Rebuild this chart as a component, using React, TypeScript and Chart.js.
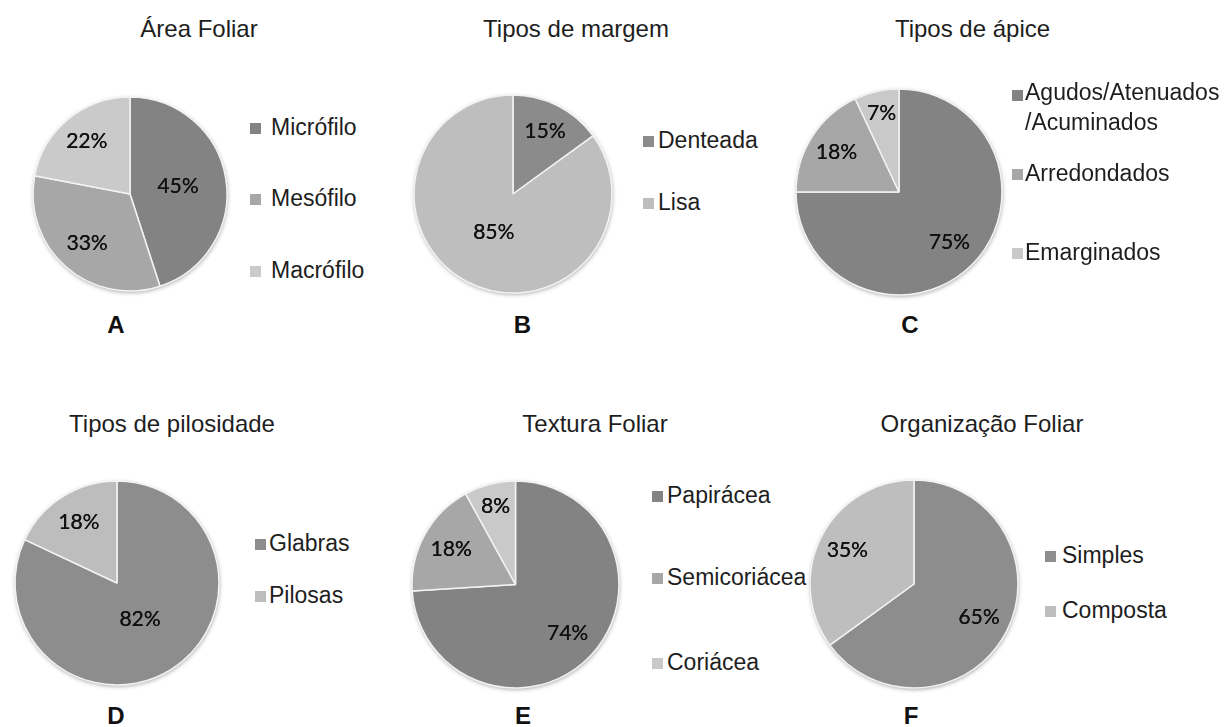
import React, { useEffect, useRef } from 'react';
import { Chart, registerables } from 'chart.js';

Chart.register(...registerables);

// ---------- DATA ----------
const areaTitle = 'Área Foliar';
const areaLabels = ['Micrófilo', 'Mesófilo', 'Macrófilo'];
const areaValues = [45, 33, 22];

const margemTitle = 'Tipos de margem';
const margemLabels = ['Denteada', 'Lisa'];
const margemValues = [15, 85];

const apiceTitle = 'Tipos de ápice';
const apiceLabels: (string | string[])[] = [['Agudos/Atenuados', '/Acuminados'], 'Arredondados', 'Emarginados'];
const apiceValues = [75, 18, 7];

const pilosidadeTitle = 'Tipos de pilosidade';
const pilosidadeLabels = ['Glabras', 'Pilosas'];
const pilosidadeValues = [82, 18];

const texturaTitle = 'Textura Foliar';
const texturaLabels = ['Papirácea', 'Semicoriácea', 'Coriácea'];
const texturaValues = [74, 18, 8];

const organizacaoTitle = 'Organização Foliar';
const organizacaoLabels = ['Simples', 'Composta'];
const organizacaoValues = [65, 35];

const panelLetters = ['A', 'B', 'C', 'D', 'E', 'F'];

// ---------- STYLE / LAYOUT ----------
const TEXT_FONT = '"Liberation Sans", Arial, sans-serif';
const LABEL_FONT = '21px Lato, "Open Sans", sans-serif';

type Panel = {
  title: string;
  labels: (string | string[])[];
  values: number[];
  colors: string[];
  letter: string;
  cx: number; cy: number; r: number;
  labelFactors: number[];
  titleX: number; titleY: number;
  letterX: number; letterY: number;
  sqX: number; textGap: number; legendYs: number[];
};

const panels: Panel[] = [
  {
    title: areaTitle, labels: areaLabels, values: areaValues,
    colors: ['#838383', '#a7a7a7', '#cacaca'], letter: panelLetters[0],
    cx: 130, cy: 194, r: 97, labelFactors: [0.5, 0.67, 0.7],
    titleX: 199, titleY: 28.5, letterX: 116, letterY: 325,
    sqX: 250, textGap: 10, legendYs: [127, 198, 270],
  },
  {
    title: margemTitle, labels: margemLabels, values: margemValues,
    colors: ['#8b8b8b', '#bebebe'], letter: panelLetters[1],
    cx: 512.5, cy: 194, r: 99, labelFactors: [0.71, 0.43],
    titleX: 576, titleY: 28.5, letterX: 522.5, letterY: 325,
    sqX: 643, textGap: 4, legendYs: [140, 202],
  },
  {
    title: apiceTitle, labels: apiceLabels, values: apiceValues,
    colors: ['#838383', '#a7a7a7', '#c9c9c9'], letter: panelLetters[2],
    cx: 898.5, cy: 192, r: 103, labelFactors: [0.69, 0.72, 0.78],
    titleX: 972.5, titleY: 28.5, letterX: 910, letterY: 325,
    sqX: 1012, textGap: 2, legendYs: [92, 173, 252],
  },
  {
    title: pilosidadeTitle, labels: pilosidadeLabels, values: pilosidadeValues,
    colors: ['#8d8d8d', '#bdbdbd'], letter: panelLetters[3],
    cx: 117, cy: 583, r: 102, labelFactors: [0.42, 0.7],
    titleX: 172, titleY: 423.5, letterX: 116, letterY: 716,
    sqX: 255, textGap: 3, legendYs: [543, 595],
  },
  {
    title: texturaTitle, labels: texturaLabels, values: texturaValues,
    colors: ['#838383', '#a7a7a7', '#c9c9c9'], letter: panelLetters[4],
    cx: 515, cy: 584, r: 103.5, labelFactors: [0.69, 0.71, 0.78],
    titleX: 595, titleY: 423.5, letterX: 523, letterY: 716,
    sqX: 652, textGap: 4, legendYs: [495, 577, 662],
  },
  {
    title: organizacaoTitle, labels: organizacaoLabels, values: organizacaoValues,
    colors: ['#8d8d8d', '#bebebe'], letter: panelLetters[5],
    cx: 914, cy: 584, r: 104, labelFactors: [0.7, 0.72],
    titleX: 982, titleY: 423.5, letterX: 911, letterY: 716,
    sqX: 1045, textGap: 6, legendYs: [555, 610],
  },
];

const shadowPlugin = {
  id: 'pieShadow',
  beforeDatasetsDraw(chart: any) {
    const meta = chart.getDatasetMeta(0);
    const arc = meta.data[0];
    if (!arc) return;
    const { x, y, outerRadius } = arc.getProps(['x', 'y', 'outerRadius'], true);
    const ctx = chart.ctx;
    ctx.save();
    ctx.shadowColor = 'rgba(0,0,0,0.35)';
    ctx.shadowBlur = 4;
    ctx.shadowOffsetX = 0.5;
    ctx.shadowOffsetY = 1.5;
    ctx.beginPath();
    ctx.arc(x, y, outerRadius, 0, Math.PI * 2);
    ctx.fillStyle = '#d0d0d0';
    ctx.fill();
    ctx.restore();
  },
};

const makeLabelPlugin = (factors: number[]) => ({
  id: 'pctLabels',
  afterDatasetsDraw(chart: any) {
    const meta = chart.getDatasetMeta(0);
    const data = chart.data.datasets[0].data as number[];
    const ctx = chart.ctx;
    ctx.save();
    ctx.font = LABEL_FONT;
    ctx.fillStyle = '#111111';
    ctx.textAlign = 'center';
    ctx.textBaseline = 'middle';
    meta.data.forEach((arc: any, i: number) => {
      const { x, y, startAngle, endAngle, outerRadius } = arc.getProps(
        ['x', 'y', 'startAngle', 'endAngle', 'outerRadius'], true);
      const mid = (startAngle + endAngle) / 2;
      const f = factors[i] ?? 0.65;
      const tx = x + Math.cos(mid) * outerRadius * f;
      const ty = y + Math.sin(mid) * outerRadius * f;
      ctx.fillText(`${data[i]}%`, tx, ty);
      ctx.fillText(`${data[i]}%`, tx + 0.3, ty);
    });
    ctx.restore();
  },
});

function Pie({ p }: { p: Panel }) {
  const ref = useRef<HTMLCanvasElement | null>(null);
  const pad = 12;
  const size = Math.ceil(2 * (p.r + pad));
  useEffect(() => {
    if (!ref.current) return;
    const chart = new Chart(ref.current, {
      type: 'pie',
      data: {
        labels: p.labels as any,
        datasets: [{
          data: p.values,
          backgroundColor: p.colors,
          borderColor: '#f3f3f3',
          borderWidth: 1.5,
        }],
      },
      options: {
        responsive: false,
        animation: false,
        radius: p.r,
        events: [],
        layout: { padding: 0 },
        plugins: { legend: { display: false }, tooltip: { enabled: false }, title: { display: false } },
      } as any,
      plugins: [shadowPlugin, makeLabelPlugin(p.labelFactors)],
    });
    return () => chart.destroy();
  }, []);
  return (
    <canvas
      ref={ref}
      width={size}
      height={size}
      style={{ position: 'absolute', left: p.cx - size / 2, top: p.cy - size / 2, width: size, height: size }}
    />
  );
}

const LINE_H = 30;
const SQ = 11;

function Legend({ p }: { p: Panel }) {
  return (
    <>
      {p.labels.map((lab, i) => {
        const lines = Array.isArray(lab) ? lab : [lab];
        return (
          <div key={i} style={{ position: 'absolute', left: p.sqX, top: p.legendYs[i] - LINE_H / 2, display: 'flex', alignItems: 'flex-start' }}>
            <div style={{ width: SQ, height: SQ, background: p.colors[i], marginTop: (LINE_H - SQ) / 2 + (lines.length > 1 ? 3 : 1), marginRight: p.textGap, flex: 'none' }} />
            <div style={{ fontFamily: TEXT_FONT, fontSize: 23, lineHeight: `${LINE_H}px`, color: '#1e1e1e', whiteSpace: 'nowrap' }}>
              {lines.map((l, k) => <div key={k}>{l}</div>)}
            </div>
          </div>
        );
      })}
    </>
  );
}

export default function App() {
  return (
    <div style={{ position: 'absolute', left: 0, top: 0, width: 1226, height: 727, background: '#ffffff', overflow: 'hidden' }}>
      {panels.map((p, idx) => (
        <React.Fragment key={idx}>
          <div style={{ position: 'absolute', left: p.titleX, top: p.titleY, transform: 'translate(-50%,-50%)', fontFamily: TEXT_FONT, fontSize: 24, lineHeight: '24px', color: '#1e1e1e', whiteSpace: 'nowrap' }}>
            {p.title}
          </div>
          <Pie p={p} />
          <Legend p={p} />
          <div style={{ position: 'absolute', left: p.letterX, top: p.letterY, transform: 'translate(-50%,-50%)', fontFamily: TEXT_FONT, fontWeight: 'bold', fontSize: 24, lineHeight: '24px', color: '#111111' }}>
            {p.letter}
          </div>
        </React.Fragment>
      ))}
    </div>
  );
}
